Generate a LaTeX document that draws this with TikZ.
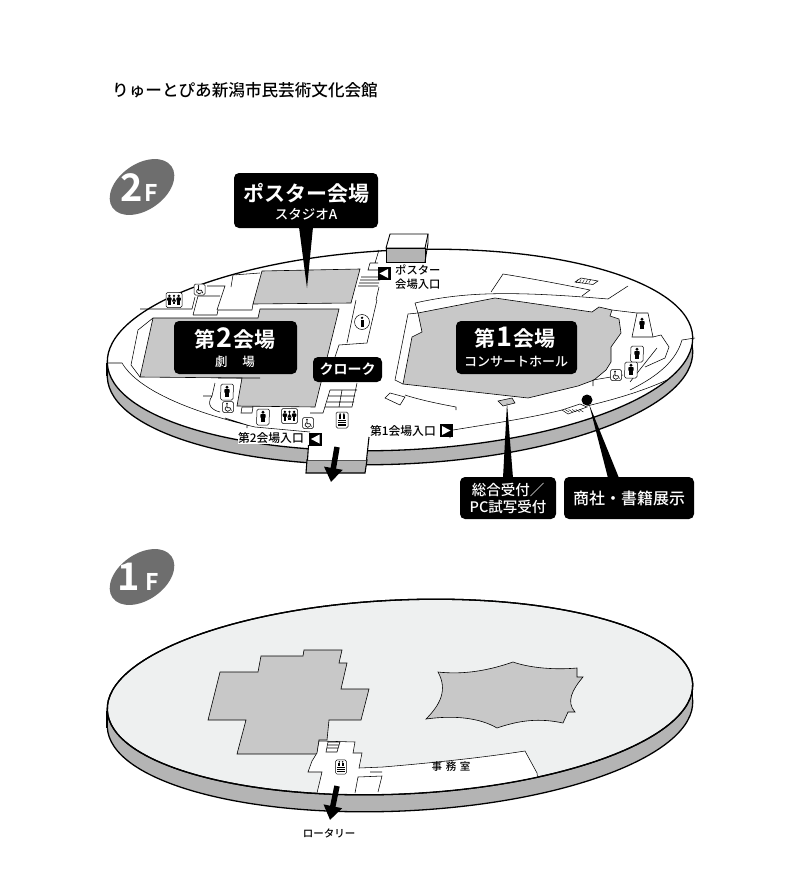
\documentclass[tikz,border=0pt]{standalone}
\usepackage{fontspec}
\setmainfont{Noto Sans CJK JP Medium}
\newfontfamily\jpb{Noto Sans CJK JP Bold}
\usetikzlibrary{arrows.meta}
\definecolor{roomgray}{HTML}{C8C8C8}
\definecolor{sidegray}{HTML}{B4B4B4}
\definecolor{badge}{HTML}{6E6E6E}
\definecolor{floorgray}{HTML}{EEF0F0}
\newcommand{\bigdig}[1]{\hspace{1pt}{\fontsize{27}{21}\selectfont #1}\hspace{1pt}}
\tikzset{
  wall/.style={draw=black,line width=0.55pt},
  room/.style={draw=black,line width=0.6pt,fill=roomgray},
  label/.style={fill=black,rounded corners=5pt,minimum width=#1,text=white,inner sep=0pt,align=center},
  small/.style={inner sep=0pt,font=\fontsize{11.3}{12}\selectfont},
  pointer/.style={fill=black,draw=none},
  bigarrow/.style={line width=5.5pt,-{Triangle[length=14pt,width=18pt]}},
  man/.pic={\fill (0,-4.8) circle (1.6);\fill[rounded corners=.8pt] (-2.6,-3) rectangle (2.6,1);\fill (-1.6,.5) rectangle (1.6,5.4);},
  woman/.pic={\fill (0,-4.8) circle (1.5);\fill (0,-3.6) -- (2.6,2) -- (-2.6,2) -- cycle;\fill (-1.2,2) rectangle (1.2,5.2);},
  iconbox/.style={draw=black,line width=0.5pt,fill=white,rounded corners=1.5pt},
  manicon/.pic={\draw[iconbox] (-6,-8) -- (6.5,-8) -- (6,8) -- (-6.5,8) -- cycle;\pic{man};},
  pairicon/.pic={\draw[iconbox] (-8,-7.5) rectangle (8,7.5);\pic at (-4.6,0) [scale=.85] {man};\pic at (0,0) [scale=.85] {woman};\pic at (4.6,0) [scale=.85] {man};},
  wheelicon/.pic={\draw[iconbox] (-5.5,-5.5) rectangle (5.5,5.5);\draw[line width=.7pt] (-1,-2.8) -- (-1,.8) -- (2,.8) -- (3.4,3.6);\fill (-1,-3.6) circle (.9);\draw[line width=.6pt] (-1.6,-.4) .. controls (-4.2,1.6) and (-2.4,4.6) .. (-.2,4.4) .. controls (.8,4.4) and (1.6,3.8) .. (1.9,3);},
  elevicon/.pic={\draw[iconbox] (-6,-8) rectangle (6,8);\fill (-1.8,-5.8) circle (1);\fill (1.8,-5.8) circle (1);\fill (-2.8,-4.6) rectangle (-.8,-1);\fill (.8,-4.6) rectangle (2.8,-1);\fill (-4,0) rectangle (4,1.2);\fill (-4,2) rectangle (4,3.2);\fill (-4,4) rectangle (4,6);},
  infoicon/.pic={\draw[iconbox] (0,0) circle (7.5);\fill (0,-4.2) circle (1.3);\fill (-1.5,-2) rectangle (1.5,4.6);},
  gateL/.pic={\fill (-6.5,-6.5) rectangle (6.5,6.5);\fill[white] (-4.5,0) -- (4,-4.5) -- (4,4.5) -- cycle;},
  gateR/.pic={\fill (-6.5,-6.5) rectangle (6.5,6.5);\fill[white] (4.5,0) -- (-4,-4.5) -- (-4,4.5) -- cycle;},
}
\begin{document}
\begin{tikzpicture}[x=1pt,y=-1pt]
\useasboundingbox (0,0) rectangle (800,891);
\fill[white] (0,0) rectangle (800,891);
\node[inner sep=0pt,anchor=west,font=\fontsize{16.6}{18}\selectfont] (title) at (112,90) {りゅーとぴあ新潟市民芸術文化会館};

% ---------- 2F ----------
\fill[badge,rotate around={35:(142,187)}] (142,187) ellipse (36 and 23);
\node[inner sep=0pt,text=white,font=\jpb\fontsize{38}{38}\selectfont] (f2a) at (131.5,188) {2};
\node[inner sep=0pt,text=white,font=\jpb\fontsize{23}{23}\selectfont] (f2b) at (151,193) {F};

% slab side
\draw[fill=sidegray,line width=1.3pt] (400,364) ellipse[x radius=293,y radius=100,rotate=2.6];
\fill[sidegray] (107,363) -- (107,376) -- (692.5,350) -- (692.5,337) -- cycle;
\draw[line width=1.3pt] (107,363) -- (107,376) (692.7,337) -- (692.7,350);
\draw[fill=white,line width=1.3pt] (400,350) ellipse[x radius=293,y radius=100,rotate=2.6];
% entrance
\draw[fill=sidegray,line width=1.1pt] (307,460) -- (306,473) -- (365,473) -- (367,460) -- cycle;
\fill[white] (308.5,440) -- (308,460) -- (366.5,460) -- (369,440) -- cycle;
\draw[line width=1.1pt] (308.5,445) -- (307.5,460) (369,437) -- (366.5,460);

% rooms
\draw[room] (262,271) -- (360,269) -- (351,303) -- (253,304) -- cycle;
\draw[room] (153,318) -- (258,318) -- (260,309) -- (339,309) -- (315,407) -- (237,406) -- (242,378) -- (140,377) -- cycle;
\draw[room] (418,313) -- (495,298) -- (592,312) -- (599,307) -- (612,310) -- (610,316) -- (619,319) -- (621,333) -- (611,347) -- (611,362) -- (606,370) -- (594,380) -- (578,386) -- (528,398) -- (403,384) -- (412,337) -- (422,332) -- cycle;

% walls 2F
\draw[wall] (233,275) -- (260,273) (233,275) -- (231,287)
  (207,286) -- (225,286) -- (217,310) (198,296) -- (220,296) (193,315) -- (198,296)
  (193,315) -- (217,315) -- (218,310) -- (252,310) -- (253,304)
  (140,309) -- (192,309) (192,309) -- (195,297)
  (153,318) -- (138,330) -- (131,365) -- (140,377)
  (108,363) -- (122,363) .. controls (135,385) and (175,408) .. (255,427) -- (310,432)
  (225,418) -- (247,425) -- (247,428)
  (203,396) -- (212,396) .. controls (206,405) and (212,410) .. (220,412)
  (215,383) -- (212,396) (218,378) -- (260,378)
  (242,407) -- (253,407) -- (252,413) -- (241,413) -- cycle
  (377,300) -- (367,343) (356,300) -- (347,343) (339,345) -- (367,343) (339,345) -- (333,363)
  (357,383) -- (352,407) (330,390) -- (323,413) -- (310,413)
  (330,390) -- (357,390) (328,396) -- (355,396) (327,402) -- (354,402) (325,407) -- (352,407)
  (342,390) -- (339,407)
  (361,277) -- (381,277) (360,280) -- (380,280) (359,283) -- (379,283) (358,286) -- (378,286)
  (370,263) -- (368,270) -- (378,270) (370,263) -- (378,263)
  (379,250) -- (375,263) (379,287) -- (376,300)
  (408,314) -- (418,313) (408,314) -- (395,380) -- (403,384)
  (415,303) -- (418,313) (415,303) .. controls (460,293) and (503,290) .. (608,299) -- (628,286)
  (491,292) -- (503,274) .. controls (540,280) and (570,286) .. (590,290) -- (582,296)
  (612,310) -- (637,313) -- (648,313) -- (653,337) -- (632,337) -- (637,313)
  (653,337) -- (661,335) -- (669,347) -- (665,358) -- (645,367)
  (657,348) -- (630,382) (593,380) -- (593,386) (593,380) -- (623,375)
  (682,340) -- (695,338) (682,340) .. controls (675,365) and (650,380) .. (630,390)
  (587,406) .. controls (620,398) and (645,390) .. (667,380)
  (385,398) -- (390,393) -- (405,397) -- (400,405) -- cycle
  (405,395) .. controls (420,400) and (440,404) .. (456,407) -- (456,410)
  (453,430) .. controls (490,424) and (530,418) .. (562,410)
  (450,430) -- (450,438);
\draw[wall,fill=roomgray] (498,401) -- (512,398) -- (515,403) -- (503,406) -- cycle;
\draw[line width=.9pt,fill=white] (386,248) -- (390,234) -- (428,234) -- (425,248) -- cycle;
\draw[line width=.9pt,fill=sidegray] (386,248) -- (425,248) -- (425,262) -- (386,262) -- cycle;
\draw[line width=.9pt] (428,234) -- (428,243) -- (425,262);
\draw[wall,fill=white] (575,282) -- (581,278) -- (598,281) -- (593,284.5) -- cycle;
\draw[wall,fill=white] (562,410) -- (580,404) -- (587,407) -- (568,414) -- cycle;
\foreach \i in {0,1,2,3,4} {\draw[line width=.4pt] (578+\i*3.2,279.5) -- (576+\i*3.2,283);\draw[line width=.4pt] (565+\i*3.6,409.5) -- (569+\i*3.6,412);}

% icons 2F
\pic at (174,300) {pairicon};
\pic at (199.5,289.5) {wheelicon};
\pic at (362,322) {infoicon};
\pic at (227,392) {manicon};
\pic at (228,407) {wheelicon};
\pic at (263,417) {manicon};
\pic at (289.5,416) {pairicon};
\pic at (308,423) {wheelicon};
\pic at (342,420) {elevicon};
\pic at (642,324) {man};
\pic at (637,354) {manicon};
\pic at (631,370) {manicon};
\pic at (616,375) {wheelicon};
\pic at (384,273.5) {gateL};
\pic at (315.5,439) {gateL};
\pic at (446,430.5) {gateR};

% small labels
\node[small,anchor=west] (pe1) at (395,270) {ポスター};
\node[small,anchor=west] (pe2) at (395,284) {会場入口};
\node[small,anchor=east,fill=white,font=\fontsize{11.8}{12}\selectfont] (e2) at (304,438) {第2会場入口};
\node[small,anchor=east,fill=white,font=\fontsize{11.8}{12}\selectfont] (e1) at (436,431) {第1会場入口};

% arrow 2F
\draw[bigarrow] (337,447) -- (331,482);

% callouts
\node[label=144pt,minimum height=55pt] (poster) at (306,200.5) {};
\fill[pointer] (299,227) -- (313,227) -- (307,288) -- cycle;
\node[inner sep=0pt,text=white,font=\jpb\fontsize{21}{21}\selectfont] (postert) at (306,193) {ポスター会場};
\node[inner sep=0pt,text=white,font=\fontsize{13.5}{14}\selectfont] (posters) at (306,214) {スタジオA};

\node[label=123pt,minimum height=53pt] (hall2) at (235.5,347.5) {};
\node[inner sep=0pt,text=white,font=\jpb\fontsize{21}{21}\selectfont] (hall2t) at (235,339) {第\bigdig{2}会場};
\node[inner sep=0pt,text=white,font=\fontsize{12.5}{13}\selectfont] (hall2s) at (235,362) {劇\hspace{1.2em}場};

\node[label=121pt,minimum height=53pt] (hall1) at (516.5,347.5) {};
\node[inner sep=0pt,text=white,font=\jpb\fontsize{21}{21}\selectfont] (hall1t) at (515,338) {第\bigdig{1}会場};
\node[inner sep=0pt,text=white,font=\fontsize{13}{14}\selectfont] (hall1s) at (516,362) {コンサートホール};

\node[label=69pt,minimum height=25pt,font=\jpb\fontsize{14}{14}\selectfont] (cloak) at (347.5,369.5) {クローク};

\fill[pointer] (507,403) -- (503,478) -- (513,478) -- cycle;
\node[label=96pt,minimum height=42pt,font=\fontsize{14.5}{17}\selectfont] (recep) at (508,498) {総合受付／\\PC試写受付};

\fill[pointer] (587,400) circle (5.5);
\fill[pointer] (589,404) -- (608,478) -- (619,478) -- cycle;
\node[label=130pt,minimum height=42pt,font=\fontsize{16}{17}\selectfont] (shop) at (629,498) {商社・書籍展示};

% ---------- 1F ----------
\fill[badge,rotate around={35:(142,577)}] (142,577) ellipse (36 and 23);
\node[inner sep=0pt,text=white,font=\jpb\fontsize{38}{38}\selectfont] (f1a) at (129,577) {1};
\node[inner sep=0pt,text=white,font=\jpb\fontsize{23}{23}\selectfont] (f1b) at (152,582) {F};

\draw[fill=sidegray,line width=1.3pt] (400,714) ellipse[x radius=293,y radius=97,rotate=2.6];
\fill[sidegray] (107,711) -- (107,728) -- (692.5,702) -- (692.5,685) -- cycle;
\draw[line width=1.3pt] (107,711) -- (107,728) (692.7,685) -- (692.7,702);
\draw[fill=floorgray,line width=1.3pt] (400,697) ellipse[x radius=293,y radius=97,rotate=2.6];

\draw[room] (261,656) -- (303,656) -- (304,650) -- (342,650) -- (339,663) -- (347,663) -- (341,689) -- (369,689) -- (361,720) -- (329,720) -- (327,740) -- (319,740) -- (317,754) -- (237,754) -- (246,720) -- (208,720) -- (220,672) -- (258,672) -- cycle;
\draw[room] (438,672) .. controls (465,675) and (490,670) .. (513,662) .. controls (530,668) and (555,670) .. (577,668) -- (577,677) -- (583,677) .. controls (572,690) and (566,702) .. (575,712) -- (568,712) -- (563,723) .. controls (540,718) and (520,720) .. (497,728) .. controls (480,718) and (455,715) .. (426,719) .. controls (440,705) and (448,690) .. (438,672) -- cycle;

\begin{scope}
\clip (400,697) ellipse[x radius=292.4,y radius=96.4,rotate=2.6];
\draw[wall,fill=white] (319,741) -- (355,742) -- (353,753) -- (362,753) -- (359,768) -- (383,767) .. controls (430,763) and (480,758) .. (525,751) -- (537,773) -- (540,800) -- (300,800) -- (317,793) -- (322,772) -- (308,772) -- (312,761) -- (317,753) -- cycle;
\end{scope}
\draw[line width=1.3pt] (400,697) ellipse[x radius=293,y radius=97,rotate=2.6];
\draw[wall] (358,777) -- (382,776) -- (378,792) (358,777) -- (355,793) (370,772) -- (382,772)
  (328,742) -- (340,742) -- (337,752) -- (326,752) -- cycle (328,745) -- (339,745) (327,748) -- (338,748);
\pic at (341,767) [scale=.9] {elevicon};
\node[inner sep=0pt,font=\fontsize{10.5}{12}\selectfont] (office) at (451,767) {事\hspace{.35em}務\hspace{.35em}室};
\draw[bigarrow] (337,786) -- (330,820);
\node[inner sep=0pt,font=\fontsize{10.5}{12}\selectfont] (rotary) at (329,833) {ロータリー};
\end{tikzpicture}
\end{document}
